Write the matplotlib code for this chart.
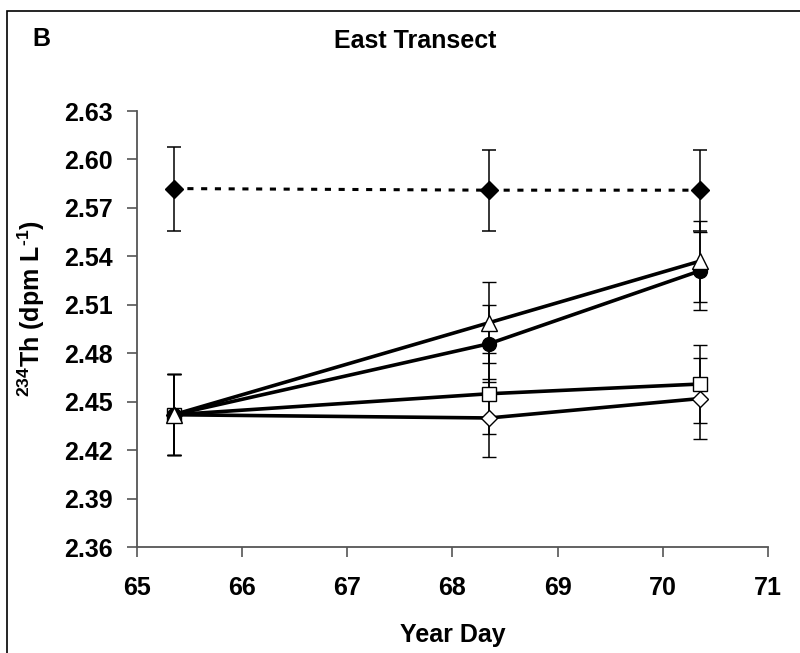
import numpy as np
import matplotlib
matplotlib.use("Agg")
from matplotlib import pyplot as plt
from matplotlib.patches import Rectangle

plt.rcParams['font.family'] = ['Liberation Sans', 'DejaVu Sans']
plt.rcParams['font.weight'] = 'bold'
plt.rcParams['mathtext.fontset'] = 'custom'
plt.rcParams['mathtext.rm'] = 'Liberation Sans:bold'
plt.rcParams['mathtext.bf'] = 'Liberation Sans:bold'

# データ
days = [65.35, 68.35, 70.35]

ref_vals = [2.582, 2.581, 2.581]          # 黒ダイヤ 破線
ref_err = [0.026, 0.025, 0.025]
tri_vals = [2.442, 2.499, 2.537]          # 白三角
tri_err = [0.025, 0.025, 0.025]
circ_vals = [2.442, 2.486, 2.531]         # 黒丸
circ_err = [0.025, 0.024, 0.024]
sq_vals = [2.442, 2.455, 2.461]           # 白四角
sq_err = [0.025, 0.025, 0.024]
dia_vals = [2.442, 2.440, 2.452]          # 白ダイヤ
dia_err = [0.025, 0.024, 0.025]

yticks = [2.36, 2.39, 2.42, 2.45, 2.48, 2.51, 2.54, 2.57, 2.60, 2.63]
xticks = [65, 66, 67, 68, 69, 70, 71]

fig = plt.figure(figsize=(8, 6.53), dpi=100)
ax = fig.add_axes([0.171, 0.162, 0.789, 0.668])

ebkw = dict(ecolor='black', elinewidth=1.1, capsize=5, capthick=1.1)

# 線
ax.errorbar(days, dia_vals, yerr=dia_err, color='black', lw=2.6, marker='D',
            ms=8, mfc='white', mec='black', mew=1.0, zorder=3, **ebkw)
ax.errorbar(days, sq_vals, yerr=sq_err, color='black', lw=2.6, marker='s',
            ms=10, mfc='white', mec='black', mew=1.0, zorder=3, **ebkw)
ax.errorbar(days, circ_vals, yerr=circ_err, color='black', lw=2.6, marker='o',
            ms=10, mfc='black', mec='black', mew=1.0, zorder=4, **ebkw)
ax.errorbar(days, tri_vals, yerr=tri_err, color='black', lw=2.6, marker='^',
            ms=12, mfc='white', mec='black', mew=1.0, zorder=5, **ebkw)
ax.errorbar(days, ref_vals, yerr=ref_err, color='black', lw=2.2, ls=(0, (2, 2.5)),
            marker='D', ms=9, mfc='black', mec='black', zorder=4, **ebkw)

ax.set_xlim(65, 71)
ax.set_ylim(2.36, 2.63)
ax.set_xticks(xticks)
ax.set_yticks(yticks)
ax.set_yticklabels(['%.2f' % v for v in yticks])
ax.tick_params(direction='out', length=7, width=1.2, color='#555555', labelsize=18)
ax.tick_params(axis='x', pad=14)
ax.tick_params(axis='y', pad=10)
for s in ['top', 'right']:
    ax.spines[s].set_visible(False)
for s in ['left', 'bottom']:
    ax.spines[s].set_color('#555555')
    ax.spines[s].set_linewidth(1.3)

ax.set_xlabel('Year Day', fontsize=18, fontweight='bold', labelpad=16)
fig.text(31 / 800, 1 - 309 / 653, r'$^{234}$Th (dpm L$^{\text{-1}}$)', rotation=90,
         ha='center', va='center', fontsize=18, fontweight='bold')

fig.text(0.519, 1 - 41 / 653, 'East Transect', ha='center', va='center', fontsize=18, fontweight='bold')
fig.text(0.04, 1 - 39 / 653, 'B', ha='left', va='center', fontsize=18, fontweight='bold')

# 外枠
fig.patches.append(Rectangle((7 / 800, -0.05), 1.1, 1 - 11 / 653 + 0.05, transform=fig.transFigure,
                             fill=False, edgecolor='black', lw=1.2))

fig.savefig('out.png', dpi=100)
